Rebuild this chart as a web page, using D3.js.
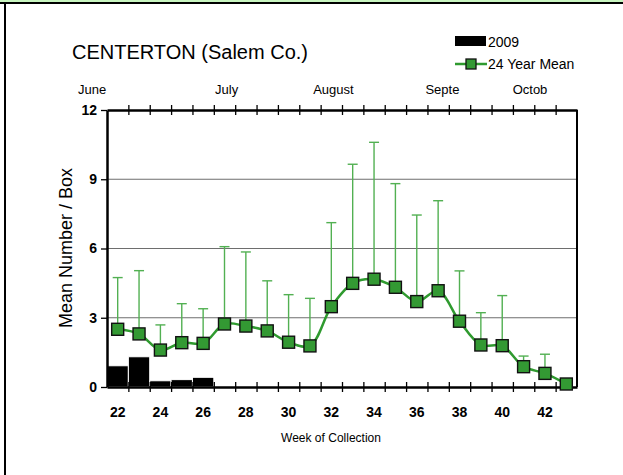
<!DOCTYPE html>
<html>
<head>
<meta charset="utf-8">
<script src="https://cdn.jsdelivr.net/npm/d3@7"></script>
<style>
  body { margin: 0; background: #fff; }
  svg { display: block; font-family: "Liberation Sans", Arial, sans-serif; }
</style>
</head>
<body>
<svg width="623" height="475"></svg>
<script>
// week numbers
var weeks = [22, 23, 24, 25, 26, 27, 28, 29, 30, 31, 32, 33, 34, 35, 36, 37, 38, 39, 40, 41, 42, 43];
// 24 year mean
var meanVals = [2.5, 2.3, 1.6, 1.92, 1.89, 2.73, 2.64, 2.43, 1.94, 1.78, 3.48, 4.49, 4.67, 4.32, 3.7, 4.17, 2.85, 1.82, 1.79, 0.88, 0.59, 0.13];
// upper end of error bars
var errTop = [4.74, 5.04, 2.69, 3.61, 3.39, 6.08, 5.85, 4.6, 4.0, 3.84, 7.12, 9.65, 10.6, 8.81, 7.45, 8.07, 5.03, 3.22, 3.96, 1.34, 1.42, 0.13];
// 2009 season
var weeks2009 = [22, 23, 24, 25, 26];
var vals2009 = [0.92, 1.31, 0.27, 0.32, 0.42];

var months = ["June", "July", "August", "Septe", "Octob"];
var monthWeek = [20.8, 27.1, 32.1, 37.2, 41.3];
var yTicks = [0, 3, 6, 9, 12];
var xLabels = [22, 24, 26, 28, 30, 32, 34, 36, 38, 40, 42];

var svg = d3.select("svg");

var plotL = 107, plotR = 577, plotT = 110, plotB = 387;

var x = d3.scaleLinear().domain([21.5, 43.5]).range([plotL, plotR]);
var y = d3.scaleLinear().domain([0, 12]).range([plotB, plotT]);

// frame
svg.append("rect").attr("x", 0).attr("y", 0).attr("width", 623).attr("height", 2).attr("fill", "#c8f5c0");
svg.append("rect").attr("x", 0).attr("y", 2).attr("width", 623).attr("height", 2).attr("fill", "#000");
svg.append("rect").attr("x", 4).attr("y", 2).attr("width", 2).attr("height", 473).attr("fill", "#000");

// grid
svg.append("g").selectAll("line")
  .data([3, 6, 9])
  .enter().append("line")
  .attr("x1", plotL).attr("x2", plotR)
  .attr("y1", function(d) { return y(d); })
  .attr("y2", function(d) { return y(d); })
  .attr("stroke", "#6e6e6e").attr("stroke-width", 1.2);

// 2009 bars
svg.append("g").selectAll("rect")
  .data(weeks2009)
  .enter().append("rect")
  .attr("x", function(d) { return x(d - 0.5); })
  .attr("y", function(d, i) { return y(vals2009[i]); })
  .attr("width", x(1) - x(0))
  .attr("height", function(d, i) { return plotB - y(vals2009[i]); })
  .attr("fill", "#000")
  .attr("stroke", "#fff").attr("stroke-width", 1);

// axes
var xTickVals = d3.range(22.5, 43.5, 1);
var axB = svg.append("g").attr("transform", "translate(0," + plotB + ")")
  .call(d3.axisBottom(x).tickValues(xTickVals).tickFormat("").tickSizeInner(5).tickSizeOuter(0));
axB.selectAll(".tick line").attr("y1", -5);
var axT = svg.append("g").attr("transform", "translate(0," + plotT + ")")
  .call(d3.axisTop(x).tickValues(xTickVals).tickFormat("").tickSizeInner(5).tickSizeOuter(0));
axT.selectAll(".tick line").attr("y1", 5);
var axL = svg.append("g").attr("transform", "translate(" + plotL + ",0)")
  .call(d3.axisLeft(y).tickValues(yTicks).tickSizeInner(6).tickSizeOuter(0).tickPadding(4));
axL.selectAll("text").attr("font-size", 14).attr("font-weight", "bold").attr("fill", "#000")
  .attr("font-family", "Liberation Sans, Arial, sans-serif");
svg.append("line").attr("x1", plotR).attr("x2", plotR).attr("y1", plotT).attr("y2", plotB)
  .attr("stroke", "#000").attr("stroke-width", 2);
svg.selectAll(".domain").attr("stroke-width", 2.5);
svg.selectAll(".tick line").attr("stroke-width", 1.3);

// x labels
svg.append("g").selectAll("text")
  .data(xLabels)
  .enter().append("text")
  .attr("x", function(d) { return x(d); })
  .attr("y", 417)
  .attr("text-anchor", "middle")
  .attr("font-size", 14).attr("font-weight", "bold")
  .text(function(d) { return d; });

// months
svg.append("g").selectAll("text")
  .data(months)
  .enter().append("text")
  .attr("x", function(d, i) { return x(monthWeek[i]); })
  .attr("y", 94)
  .attr("text-anchor", "middle")
  .attr("font-size", 13)
  .text(function(d) { return d; });

// error bars
var eb = svg.append("g").attr("stroke", "#52b052").attr("stroke-width", 1.4);
weeks.forEach(function(w, i) {
  if (errTop[i] <= meanVals[i]) return;
  eb.append("line").attr("x1", x(w)).attr("x2", x(w)).attr("y1", y(meanVals[i])).attr("y2", y(errTop[i]));
  eb.append("line").attr("x1", x(w) - 5).attr("x2", x(w) + 5).attr("y1", y(errTop[i])).attr("y2", y(errTop[i]));
});

// mean line
var line = d3.line()
  .x(function(d, i) { return x(weeks[i]); })
  .y(function(d) { return y(d); })
  .curve(d3.curveCatmullRom.alpha(0.5));
svg.append("path").datum(meanVals)
  .attr("d", line)
  .attr("fill", "none").attr("stroke", "#2f9a2f").attr("stroke-width", 2.5);

svg.append("g").selectAll("rect")
  .data(meanVals)
  .enter().append("rect")
  .attr("x", function(d, i) { return x(weeks[i]) - 6; })
  .attr("y", function(d) { return y(d) - 6; })
  .attr("width", 12).attr("height", 12)
  .attr("fill", "#339933").attr("stroke", "#111").attr("stroke-width", 1.4);

// title and axis titles
svg.append("text").attr("x", 72).attr("y", 59).attr("font-size", 20).text("CENTERTON (Salem Co.)");
svg.append("text").attr("transform", "translate(72,248) rotate(-90)")
  .attr("text-anchor", "middle").attr("font-size", 18).text("Mean Number / Box");
svg.append("text").attr("x", 331).attr("y", 442).attr("text-anchor", "middle")
  .attr("font-size", 12).text("Week of Collection");

// legend
svg.append("rect").attr("x", 455).attr("y", 36).attr("width", 31).attr("height", 10).attr("fill", "#000");
svg.append("text").attr("x", 488).attr("y", 47).attr("font-size", 14).text("2009");
svg.append("line").attr("x1", 455).attr("x2", 487).attr("y1", 64).attr("y2", 64)
  .attr("stroke", "#2f9a2f").attr("stroke-width", 2.5);
svg.append("rect").attr("x", 466).attr("y", 59).attr("width", 10).attr("height", 10)
  .attr("fill", "#339933").attr("stroke", "#111").attr("stroke-width", 1.3);
svg.append("text").attr("x", 488).attr("y", 69).attr("font-size", 14).text("24 Year Mean");
</script>
</body>
</html>
